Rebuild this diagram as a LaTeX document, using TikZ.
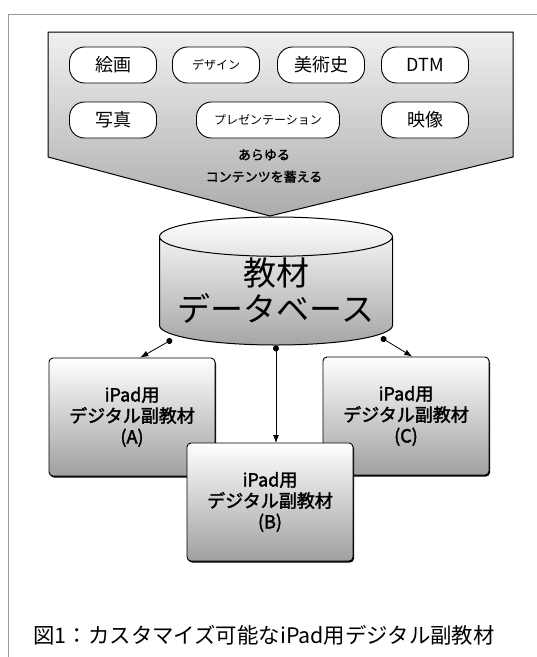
\documentclass[tikz,border=0pt]{standalone}
\usepackage{fontspec}
\setmainfont{Noto Sans CJK JP}[AutoFakeBold=2]
\usetikzlibrary{shapes.geometric,arrows.meta,shadows,calc}

\begin{document}
\begin{tikzpicture}[
    pill/.style={draw, line width=0.9pt, fill=white, rounded corners=15pt,
      minimum width=87pt, minimum height=36pt, inner sep=0pt},
    subbox/.style={draw, line width=0.9pt, rounded corners=4pt,
      top color=white, bottom color=gray!75, minimum width=166pt,
      minimum height=118pt, align=center, inner sep=0pt,
      font=\bfseries\fontsize{18}{21}\selectfont,
      drop shadow={shadow xshift=1pt, shadow yshift=-1.5pt, opacity=1, fill=black}}
  ]
    \useasboundingbox (0pt, 0pt) rectangle (537pt, -657pt);
    \draw[gray!80, line width=0.8pt] (537pt, -14pt) -- (8pt, -14pt) -- (8pt, -657pt);
    % contents funnel
    \path[draw, line width=1pt, top color=gray!12, bottom color=gray!65]
      (48pt, -32pt) -- (513pt, -32pt) -- (513pt, -157pt) -- (270pt, -216pt)
      -- (48pt, -157pt) -- cycle;
    \node[pill, font=\fontsize{18}{18}\selectfont] (kaiga) at (113pt, -65pt) {絵画};
    \node[pill, font=\fontsize{12}{12}\selectfont] (design) at (216pt, -65pt) {デザイン};
    \node[pill, font=\fontsize{18}{18}\selectfont] (bijutsushi) at (321pt, -65pt) {美術史};
    \node[pill, font=\fontsize{18}{18}\selectfont] (dtm) at (425pt, -65pt) {DTM};
    \node[pill, font=\fontsize{18}{18}\selectfont] (shashin) at (113pt, -120pt) {写真};
    \node[pill, minimum width=143pt, font=\fontsize{12}{12}\selectfont] (presen) at (268pt, -120pt) {プレゼンテーション};
    \node[pill, font=\fontsize{18}{18}\selectfont] (eizo) at (425pt, -120pt) {映像};
    \node[align=center, font=\bfseries\fontsize{13}{22}\selectfont] (subete) at (264pt, -166pt)
      {あらゆる\\コンテンツを蓄える};
    % database
    \node[cylinder, shape border rotate=90, aspect=0.2, draw, line width=1pt,
      minimum width=233pt, minimum height=128pt, inner sep=0pt,
      top color=white, bottom color=gray!70, align=center, anchor=shape center,
      font=\fontsize{33}{36}\selectfont] (db) at (276pt, -281pt) {教材\\データベース};
    \coordinate (dotA) at ($(db.south)+(-104pt, 6pt)$);
    \coordinate (dotC) at ($(db.south)+(105pt, 8pt)$);
    % sub materials
    \node[subbox] (boxA) at (132pt, -417pt) {iPad用\\デジタル副教材\\(A)};
    \node[subbox] (boxC) at (406pt, -416pt) {iPad用\\デジタル副教材\\(C)};
    \begin{scope}[{Circle[length=6pt]}-{Latex[length=8pt, width=6pt]}, line width=0.8pt]
      \draw (dotA) -- (boxA.82);
      \draw (db.south) -- (db.south |- 0pt, -443pt);
      \draw (dotC) -- (boxC.84);
    \end{scope}
    \node[subbox] (boxB) at (270pt, -502pt) {iPad用\\デジタル副教材\\(B)};
    \node[anchor=west, font=\fontsize{21.4}{21.4}\selectfont] (caption) at (30pt, -635pt)
      {図1：カスタマイズ可能なiPad用デジタル副教材};
  \end{tikzpicture}
\end{document}
